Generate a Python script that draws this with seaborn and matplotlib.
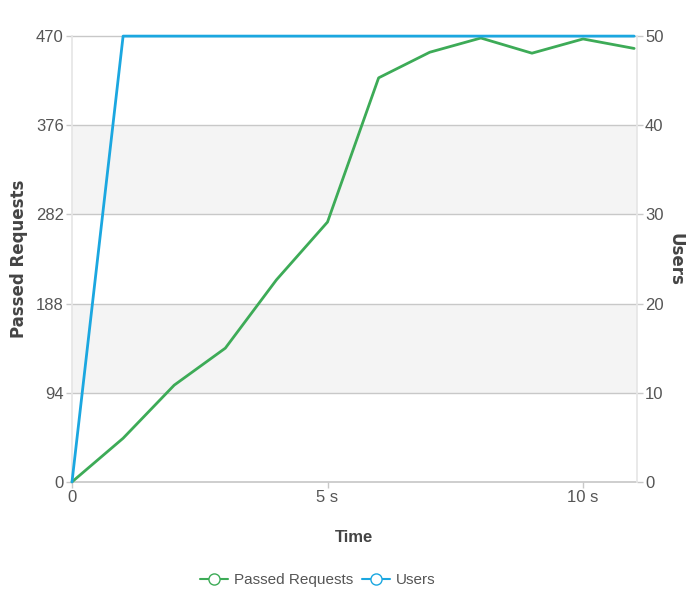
import matplotlib
matplotlib.use("Agg")
import matplotlib.pyplot as plt
import seaborn as sns
import pandas as pd
from matplotlib.lines import Line2D

time_s = [0, 1, 2, 3, 4, 5, 6, 7, 8, 9, 10, 11]
passed_requests = [0, 46, 102, 141, 213, 274, 426, 453, 468, 452, 467, 457]
users = [0, 50, 50, 50, 50, 50, 50, 50, 50, 50, 50, 50]
left_ticks = [0, 94, 188, 282, 376, 470]
right_ticks = [0, 10, 20, 30, 40, 50]
x_ticks = [0, 5, 10]
x_tick_labels = ["0", "5 s", "10 s"]

sns.set_theme(style="white")
plt.rcParams['font.family'] = ['Liberation Sans Narrow', 'Liberation Sans', 'DejaVu Sans']

df = pd.DataFrame({"t": time_s, "req": passed_requests, "users": users})

green = "#3dab57"
blue = "#1ba7e0"
grid_c = "#c8c8c8"
text_c = "#555555"

fig = plt.figure(figsize=(6.87, 5.92), dpi=100)
ax = fig.add_axes([0.1048, 0.186, 0.822, 0.753])
ax2 = ax.twinx()

# alternating bands
for i in range(len(left_ticks) - 1):
    if i % 2 == 1:
        ax.axhspan(left_ticks[i], left_ticks[i + 1], color="#f4f4f4", zorder=0, lw=0)
for v in left_ticks[1:]:
    ax.axhline(v, color=grid_c, lw=1, zorder=1)

sns.lineplot(data=df, x="t", y="req", ax=ax, color=green, lw=2, zorder=3)
sns.lineplot(data=df, x="t", y="users", ax=ax2, color=blue, lw=2, zorder=3)
for a in (ax, ax2):
    for ln in a.get_lines():
        ln.set_clip_on(False)

ax.set_xlim(0, 11.05)
ax.set_ylim(0, 470)
ax2.set_ylim(0, 50)
ax.set_yticks(left_ticks)
ax.set_yticklabels([str(v) for v in left_ticks])
ax2.set_yticks(right_ticks)
ax2.set_yticklabels([str(v) for v in right_ticks])
ax.set_xticks(x_ticks)
ax.set_xticklabels(x_tick_labels)

for a in (ax, ax2):
    a.tick_params(axis="both", labelsize=12, colors=text_c, length=4, width=1, pad=2)
    for s in a.spines.values():
        s.set_visible(False)
ax.tick_params(axis="y", left=True, color=grid_c)
ax.tick_params(axis="x", bottom=True, color=grid_c)
ax2.tick_params(axis="y", right=True, color=grid_c)
ax.spines["bottom"].set_visible(True)
ax.spines["bottom"].set_color(grid_c)
ax.spines["left"].set_visible(True)
ax.spines["left"].set_color("#e6e6e6")
ax2.spines["right"].set_visible(True)
ax2.spines["right"].set_color("#e6e6e6")

ax.set_xlabel("Time", fontsize=12, color="#444444", fontweight="bold", labelpad=18)
ax.set_ylabel("Passed Requests", fontsize=12, color="#444444", fontweight="bold",
              family=['DejaVu Sans'])
ax.yaxis.set_label_coords(-0.078, 0.5)
ax2.set_ylabel("Users", fontsize=12, color="#444444", fontweight="bold", rotation=270,
               family=['DejaVu Sans'])
ax2.yaxis.set_label_coords(1.085, 0.5)

handles = [
    Line2D([0], [0], color=green, lw=1.5, marker="o", markersize=8, markerfacecolor="white", markeredgecolor=green),
    Line2D([0], [0], color=blue, lw=1.5, marker="o", markersize=8, markerfacecolor="white", markeredgecolor=blue),
]
fig.legend(handles, ["Passed Requests", "Users"], loc="center", bbox_to_anchor=(0.463, 0.0195),
           ncol=2, frameon=False, fontsize=11, handlelength=1.8, columnspacing=0.6, handletextpad=0.4,
           labelcolor="#555555")

fig.savefig("out.png", dpi=100)
